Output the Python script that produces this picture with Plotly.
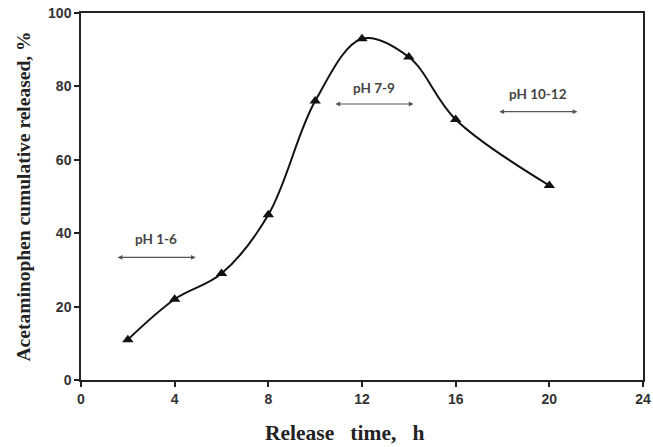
import plotly.graph_objects as go

# Data
release_time_h = [2, 4, 6, 8, 10, 12, 14, 16, 20]
released_pct = [11, 22, 29, 45, 76, 93, 88, 71, 53]

ph_labels = ["pH 1-6", "pH 7-9", "pH 10-12"]
ph_start_h = [1.5, 10.8, 17.8]
ph_end_h = [4.9, 14.2, 21.2]
ph_arrow_pct = [33.4, 75.2, 73.1]
ph_label_pct = [38.3, 79.5, 77.9]

x_ticks = [0, 4, 8, 12, 16, 20, 24]
y_ticks = [0, 20, 40, 60, 80, 100]

fig = go.Figure()
fig.add_trace(go.Scatter(
    x=release_time_h, y=released_pct,
    mode="lines+markers",
    line=dict(color="#111111", width=2, shape="spline", smoothing=1.0),
    marker=dict(symbol="triangle-up", size=10, color="#111111"),
    showlegend=False,
))

for lab, s, e, ya, yl in zip(ph_labels, ph_start_h, ph_end_h, ph_arrow_pct, ph_label_pct):
    fig.add_annotation(
        x=e, y=ya, ax=s, ay=ya, xref="x", yref="y", axref="x", ayref="y",
        text="", showarrow=True, arrowhead=2, arrowside="end+start",
        arrowsize=0.8, arrowwidth=1.2, arrowcolor="#555555",
    )
    fig.add_annotation(
        x=(s + e) / 2, y=yl, xref="x", yref="y", text="<b>" + lab + "</b>",
        showarrow=False, font=dict(family="Lato, Open Sans, sans-serif", size=13.5, color="#444444"),
    )

# x-axis title (placed slightly left of centre, as in the reference)
fig.add_annotation(
    x=0.468, y=-0.144, xref="paper", yref="paper", xanchor="center", yanchor="middle",
    text="<b>Release&nbsp;&nbsp; time,&nbsp;&nbsp; h</b>", showarrow=False,
    font=dict(family="Liberation Serif, Times New Roman, serif", size=21.5, color="#222222"),
)

axis_common = dict(
    showgrid=False, zeroline=False, showline=True, linecolor="#222222", linewidth=1.5,
    mirror=True, ticks="outside", ticklen=5, tickwidth=1.5, tickcolor="#222222",
    tickfont=dict(family="Liberation Sans, Arial, sans-serif", size=14, color="#333333"),
    automargin=False,
)

fig.update_xaxes(
    range=[0, 24], tickvals=x_ticks, ticktext=["<b>%d</b>" % t for t in x_ticks],
    **axis_common,
)
fig.update_yaxes(
    range=[0, 100], tickvals=y_ticks, ticktext=["<b>%d</b>" % t for t in y_ticks],
    title=dict(text="<b>Acetaminophen cumulative released, %</b>", standoff=12,
               font=dict(family="Liberation Serif, Times New Roman, serif", size=19.5, color="#222222")),
    **axis_common,
)

fig.update_layout(
    width=653, height=447,
    margin=dict(l=81, r=10, t=13, b=67),
    plot_bgcolor="white", paper_bgcolor="white",
)

fig.write_html(
    "out.html",
    config={"displayModeBar": False},
    post_script="document.body.style.margin='0';document.body.style.overflow='hidden';",
)
